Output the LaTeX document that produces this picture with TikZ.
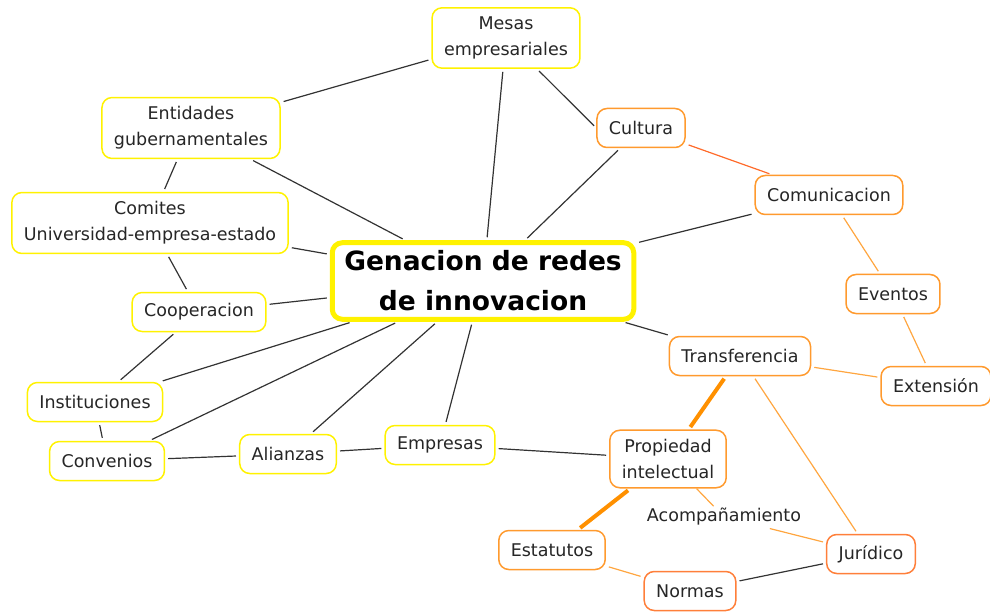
\documentclass[tikz,border=0pt]{standalone}
\usepackage{fontspec}
\setmainfont{DejaVu Sans}
\definecolor{ideaYellow}{HTML}{FFF200}
\definecolor{ideaOrange}{HTML}{FF9A2E}
\definecolor{deepOrange}{HTML}{FF7F3A}
\definecolor{lineOrange}{HTML}{FFA640}
\definecolor{redOrange}{HTML}{FF6A2A}
\definecolor{boldOrange}{HTML}{FF9000}
\tikzset{
x=1pt, y=-1pt, % one unit is one pixel of the reference, y runs downwards
every node/.style={font=\fontsize{17.5}{26}\selectfont, align=center, text=black!85},
idea/.style={draw=ideaYellow, line width=1.5pt, rounded corners=10pt, fill=white, inner xsep=12pt, inner ysep=9pt, minimum height=39pt}, % yellow boxes
topic/.style={idea, draw=ideaOrange}, % orange boxes
deeptopic/.style={idea, draw=deepOrange}, % darker orange boxes
core/.style={idea, line width=5pt, font=\bfseries\fontsize{26.5}{40}\selectfont, text=black, inner xsep=12pt, inner ysep=8pt}, % the central idea
linkword/.style={inner sep=2pt}, % text on a connector
link/.style={draw=black!80, line width=1.2pt, shorten <=3pt, shorten >=3pt}, % black connector
olink/.style={link, draw=lineOrange}, % light orange connector
rlink/.style={link, draw=redOrange}, % red orange connector
boldlink/.style={link, draw=boldOrange, line width=4pt}, % thick orange connector
}

\begin{document}
\begin{tikzpicture}
        \useasboundingbox (0,0) rectangle (990,612);

        \node[core] (red) at (483,281) {Genacion de redes\\de innovacion};
        \node[idea] (mesas) at (506,38) {Mesas\\empresariales};
        \node[idea] (entid) at (191,128) {Entidades\\gubernamentales};
        \node[idea] (comit) at (150,223) {Comites\\Universidad-empresa-estado};
        \node[idea] (coop) at (199,312) {Cooperacion};
        \node[idea] (inst) at (95,402) {Instituciones};
        \node[idea] (conv) at (107,461) {Convenios};
        \node[idea] (alian) at (288,454) {Alianzas};
        \node[idea] (empr) at (440,445) {Empresas};
        \node[topic] (cult) at (641,128) {Cultura};
        \node[topic] (comu) at (829,195) {Comunicacion};
        \node[topic] (event) at (893,294) {Eventos};
        \node[topic] (exten) at (936,386) {Extensión};
        \node[topic] (trans) at (740,356) {Transferencia};
        \node[topic] (prop) at (668,459) {Propiedad\\intelectual};
        \node[linkword] (acomp) at (724,517) {Acompañamiento};
        \node[deeptopic] (jurid) at (871,554) {Jurídico};
        \node[topic] (estat) at (552,550) {Estatutos};
        \node[deeptopic] (norm) at (690,591) {Normas};

        % yellow side
        \draw[link] (mesas) -- (entid);
        \draw[link] (mesas) -- (red);
        \draw[link] (mesas) -- (cult.west);
        \draw[link] (entid) -- (red);
        \draw[link] (entid) -- (comit);
        \draw[link] (comit) -- (red);
        \draw[link] (comit) -- (coop);
        \draw[link] (coop) -- (red);
        \draw[link] (coop) -- (inst);
        \draw[link] (inst) -- (red);
        \draw[link] (inst) -- (conv);
        \draw[link] (conv) -- (red);
        \draw[link] (conv) -- (alian);
        \draw[link] (alian) -- (red);
        \draw[link] (alian) -- (empr);
        \draw[link] (empr) -- (red);
        \draw[link] (empr) -- (prop);

        % orange side
        \draw[link] (cult) -- (red);
        \draw[link] (comu) -- (red);
        \draw[link] (red) -- (trans);
        \draw[rlink] (cult) -- (comu);
        \draw[olink] (comu) -- (event);
        \draw[olink] (event) -- (exten);
        \draw[olink] (trans) -- (exten);
        \draw[olink] (trans) -- (jurid);
        \draw[boldlink] (trans) -- (prop);
        \draw[boldlink] (prop) -- (estat);
        \draw[olink] (prop) -- (acomp) -- (jurid);
        \draw[olink] (estat) -- (norm);
        \draw[link] (norm) -- (jurid);
\end{tikzpicture}
\end{document}
